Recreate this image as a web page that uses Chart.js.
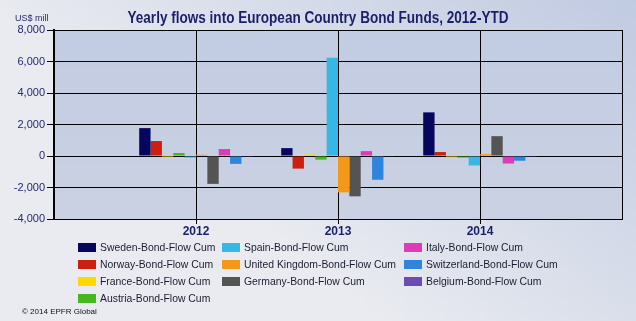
<!DOCTYPE html>
<html>
<head>
<meta charset="utf-8">
<script src="https://cdn.jsdelivr.net/npm/chart.js@4"></script>
<style>
    html, body { margin: 0; padding: 0; }
    #wrap { width: 636px; height: 321px; position: relative; }
</style>
</head>
<body>
<div id="wrap"><canvas id="flowChart" width="636" height="321"></canvas></div>
<script>
// Data
const years = ['2012', '2013', '2014'];
const seriesNames = [
    'Sweden-Bond-Flow Cum', 'Norway-Bond-Flow Cum', 'France-Bond-Flow Cum', 'Austria-Bond-Flow Cum',
    'Spain-Bond-Flow Cum', 'United Kingdom-Bond-Flow Cum', 'Germany-Bond-Flow Cum',
    'Italy-Bond-Flow Cum', 'Switzerland-Bond-Flow Cum', 'Belgium-Bond-Flow Cum'
];
const sweden = [1770, 500, 2770];
const norway = [950, -800, 250];
const france = [-100, 100, -100];
const austria = [190, -230, -100];
const spain = [-100, 6240, -600];
const unitedKingdom = [80, -2310, 120];
const germany = [-1770, -2560, 1260];
const italy = [440, 310, -480];
const switzerland = [-500, -1510, -300];
const belgium = [-50, -40, -50];
const yTicks = [-4000, -2000, 0, 2000, 4000, 6000, 8000];

const seriesValues = [sweden, norway, france, austria, spain, unitedKingdom, germany, italy, switzerland, belgium];
const seriesColors = ['#07065f', '#cc1f10', '#ffd800', '#44b81c', '#35b8e6', '#f5981a', '#545454', '#dd3cb8', '#2f84dc', '#6a4cb4'];

// blank slot on both sides so the years sit on the grid lines
const labels = [''].concat(years, ['']);

const datasets = seriesNames.map((name, i) => ({
    label: name,
    data: [null].concat(seriesValues[i], [null]),
    backgroundColor: seriesColors[i],
    borderWidth: 0,
    categoryPercentage: 0.8,
    barPercentage: 1.0
}));

// Background, title, legend and footer
const decorPlugin = {
    id: 'decor',
    beforeDraw(chart) {
        const c = chart.ctx;
        const a = chart.chartArea;
        const bg = c.createLinearGradient(636, 0, 380, 321);
        bg.addColorStop(0, '#c0cae1');
        bg.addColorStop(1, '#e9ebf0');
        c.save();
        c.fillStyle = bg;
        c.fillRect(0, 0, chart.width, chart.height);
        const plot = c.createLinearGradient(0, a.top, 0, a.bottom);
        plot.addColorStop(0, '#c2cce2');
        plot.addColorStop(1, '#cad1e2');
        c.fillStyle = plot;
        c.fillRect(a.left, a.top, a.right - a.left, a.bottom - a.top);
        c.restore();
    },
    afterDraw(chart) {
        const c = chart.ctx;
        c.save();
        c.textBaseline = 'middle';

        // title is a condensed face, squeeze it to the reference width
        const title = 'Yearly flows into European Country Bond Funds, 2012-YTD';
        c.fillStyle = '#1b1f6b';
        c.textAlign = 'center';
        c.font = 'bold 16px "Liberation Sans", sans-serif';
        const sx = 381 / c.measureText(title).width;
        c.save();
        c.translate(318, 19);
        c.scale(sx, 1);
        c.fillText(title, 0, 0);
        c.restore();

        c.textAlign = 'left';
        c.font = '9px "Liberation Sans", sans-serif';
        c.fillStyle = '#26296f';
        c.fillText('US$ mill', 15, 19);

        // legend in three columns, filled top to bottom
        const cols = [[0, 1, 2, 3], [4, 5, 6], [7, 8, 9]];
        const colX = [78, 222, 404];
        c.font = '10.4px "Liberation Sans", sans-serif';
        cols.forEach((col, ci) => {
            col.forEach((idx, ri) => {
                const ds = chart.data.datasets[idx];
                const y = 247.5 + ri * 17;
                c.fillStyle = ds.backgroundColor;
                c.fillRect(colX[ci], y - 4.5, 18, 9);
                c.fillStyle = '#1c1c30';
                c.fillText(ds.label, colX[ci] + 22, y + 0.5);
            });
        });

        c.font = '8px "Liberation Sans", sans-serif';
        c.fillStyle = '#111111';
        c.fillText('\u00A9 2014 EPFR Global', 22, 312);
        c.restore();
    }
};

const ctx = document.getElementById('flowChart').getContext('2d');
const flowChart = new Chart(ctx, {
    type: 'bar',
    data: { labels: labels, datasets: datasets },
    options: {
        responsive: false,
        animation: false,
        layout: { padding: { top: 30, right: 14, bottom: 0, left: 0 } },
        plugins: {
            legend: { display: false },
            title: { display: false },
            tooltip: { enabled: false }
        },
        scales: {
            x: {
                offset: false,
                afterFit(scale) { scale.height = 102; },
                grid: {
                    offset: false,
                    color: '#000000',
                    lineWidth: 1,
                    tickLength: 5,
                    tickColor: (c) => (c.index === 0 || c.index === labels.length - 1) ? 'rgba(0,0,0,0)' : '#000000'
                },
                border: { color: '#000000', width: 1 },
                ticks: {
                    color: '#1b1f6b',
                    padding: 0,
                    maxRotation: 0,
                    autoSkip: false,
                    font: { family: '"Liberation Sans", sans-serif', size: 12, weight: 'bold' }
                }
            },
            y: {
                min: -4000,
                max: 8000,
                afterFit(scale) { scale.width = 54; },
                afterBuildTicks(scale) { scale.ticks = yTicks.map(v => ({ value: v })); },
                grid: { color: '#000000', lineWidth: 1, tickLength: 7 },
                border: { color: '#000000', width: 2 },
                ticks: {
                    color: '#26296f',
                    padding: 2,
                    font: { family: '"Liberation Sans", sans-serif', size: 11 },
                    callback: (v) => v.toLocaleString('en-US')
                }
            }
        }
    },
    plugins: [decorPlugin]
});
</script>
</body>
</html>
